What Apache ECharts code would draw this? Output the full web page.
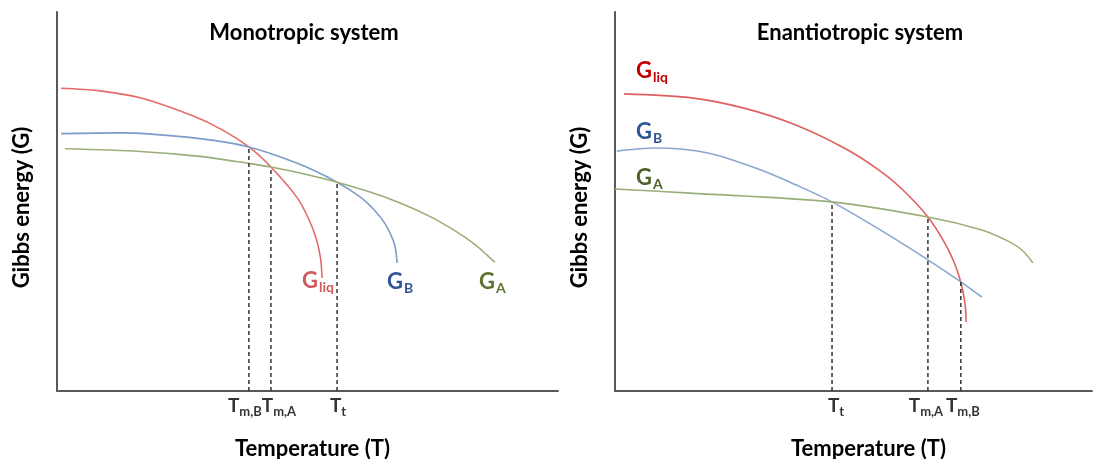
<!DOCTYPE html>
<html>
<head>
<meta charset="utf-8">
<script src="https://cdn.jsdelivr.net/npm/echarts@6/dist/echarts.min.js"></script>
<style>
  html, body { margin: 0; padding: 0; background: #fff; }
  #main { width: 1103px; height: 459px; }
</style>
</head>
<body>
<div id="main"></div>
<script>
// values, x = temperature, y = Gibbs energy (both 0..100)
// Monotropic system
var monoLiq = [[0.8, 79.9], [8.6, 79.2], [16.8, 77.3], [27.1, 72.6], [32.7, 69.1], [38.3, 64.4], [42.7, 59.1], [48.1, 50.7], [50.5, 44.6], [51.7, 40.4], [52.3, 37.2], [52.7, 34.0], [52.9, 29.8]];
var monoB = [[0.8, 67.9], [12.8, 68.1], [28.5, 66.6], [38.3, 64.4], [48.1, 60.0], [55.9, 55.1], [60.5, 51.2], [63.5, 47.5], [65.5, 44.1], [66.9, 40.4], [67.5, 38.0], [67.9, 33.8]];
var monoA = [[1.6, 63.9], [16.6, 63.2], [28.5, 61.9], [38.5, 60.0], [42.7, 59.1], [48.5, 57.5], [55.9, 55.1], [62.5, 52.5], [68.5, 49.6], [74.5, 46.0], [79.4, 42.3], [83.4, 38.7], [85.8, 35.9], [87.4, 34.0]];
var monoTicks = [38.3, 42.7, 55.9];
var monoTickTops = [64.4, 59.1, 55.1];
var monoTickNames = ['m,B', 'm,A', 't'];

// Enantiotropic system
var enanLiq = [[1.9, 78.4], [15.7, 77.4], [26.8, 74.7], [37.9, 70.2], [48.8, 63.6], [56.2, 57.5], [60.8, 52.5], [65.6, 45.9], [69.2, 38.9], [71.3, 33.3], [72.5, 28.7], [73.2, 24.6], [73.5, 21.5], [73.6, 18.2]];
var enanB = [[0.4, 63.3], [8.4, 64.1], [19.5, 62.8], [30.6, 58.3], [37.9, 54.4], [45.5, 49.9], [55.6, 42.5], [65.6, 34.6], [72.5, 28.8], [76.9, 24.8]];
var enanA = [[0, 53.3], [15.7, 52.2], [45.5, 49.9], [65.6, 45.9], [76.9, 42.5], [82.0, 39.8], [85.3, 37.2], [87.6, 33.8]];
var enanTicks = [45.5, 65.6, 72.5];
var enanTickTops = [49.9, 45.9, 28.8];
var enanTickNames = ['t', 'm,A', 'm,B'];

var FONT = 'Lato';
var axisCol = '#595959';

function curve(data, color, idx) {
  return {
    type: 'line', data: data, xAxisIndex: idx, yAxisIndex: idx,
    smooth: 0.3, symbol: 'none', silent: true,
    lineStyle: { color: color, width: 1.6 }
  };
}

function dashes(ticks, tops, idx) {
  return ticks.map(function (t, i) {
    return {
      type: 'line', data: [[t, 0], [t, tops[i]]], xAxisIndex: idx, yAxisIndex: idx,
      symbol: 'none', silent: true,
      lineStyle: { color: '#333', width: 1.5, type: [4, 3] }
    };
  });
}

// tick labels T_x under the axis; shifts nudge a label off its dashed line (px)
function tickLabels(ticks, names, shifts, idx) {
  return {
    type: 'scatter', xAxisIndex: idx, yAxisIndex: idx, symbolSize: 0, silent: true,
    data: ticks.map(function (t, i) {
      return { value: [t, 0], label: { position: [shifts[i], 5], formatter: '{t|T}{s|' + names[i] + '}' } };
    }),
    label: {
      show: true, align: 'center', verticalAlign: 'top',
      rich: {
        t: { fontFamily: FONT, fontWeight: 'bold', fontSize: 19, lineHeight: 20, color: '#000', verticalAlign: 'top' },
        s: { fontFamily: FONT, fontWeight: 'bold', fontSize: 13, lineHeight: 13, color: '#000', verticalAlign: 'top', padding: [9, 0, 0, 0] }
      }
    },
    labelLayout: { hideOverlap: false }
  };
}

function xAx(idx, namePad) {
  return {
    type: 'value', gridIndex: idx, min: 0, max: 100,
    name: 'Temperature (T)', nameLocation: 'middle', nameGap: 47,
    nameTextStyle: { fontFamily: FONT, fontWeight: 'bold', fontSize: 22, color: '#000', padding: namePad },
    axisLine: { show: true, lineStyle: { color: axisCol, width: 2 } },
    axisTick: { show: false },
    axisLabel: { show: false },
    splitLine: { show: false }
  };
}

function yAx(idx) {
  return {
    type: 'value', gridIndex: idx, min: 0, max: 100,
    name: 'Gibbs energy (G)', nameLocation: 'middle', nameGap: 24, nameRotate: 90,
    nameTextStyle: { fontFamily: FONT, fontWeight: 'bold', fontSize: 22, color: '#000', padding: [0, 12, 0, 0] },
    axisLine: { show: true, lineStyle: { color: axisCol, width: 2 } },
    axisTick: { show: false },
    axisLabel: { show: false },
    splitLine: { show: false }
  };
}

function gLabel(x, y, sub, gCol) {
  return {
    type: 'text', x: x, y: y, silent: true,
    style: {
      text: '{g|G}{s|' + sub + '}',
      rich: {
        g: { fontFamily: FONT, fontWeight: 'bold', fontSize: 22, lineHeight: 22, fill: gCol, verticalAlign: 'top' },
        s: { fontFamily: FONT, fontWeight: 'bold', fontSize: 14, lineHeight: 14, fill: gCol, verticalAlign: 'top', padding: [10, 0, 0, 1] }
      }
    }
  };
}

var chart = echarts.init(document.getElementById('main'));
chart.setOption({
  animation: false,
  title: [
    { text: 'Monotropic system', left: 299, top: 17, textAlign: 'center',
      textStyle: { fontFamily: FONT, fontWeight: 'bold', fontSize: 22, color: '#000' } },
    { text: 'Enantiotropic system', left: 855, top: 17, textAlign: 'center',
      textStyle: { fontFamily: FONT, fontWeight: 'bold', fontSize: 22, color: '#000' } }
  ],
  grid: [
    { left: 57, top: 12, width: 501, height: 379, containLabel: false, outerBoundsMode: 'none' },
    { left: 615, top: 12, width: 477, height: 379, containLabel: false, outerBoundsMode: 'none' }
  ],
  xAxis: [xAx(0, [0, 0, 0, 10]), xAx(1, [0, 0, 0, 30])],
  yAxis: [yAx(0), yAx(1)],
  series: [
    curve(monoLiq, '#E46A6A', 0),
    curve(monoB, '#7E9CC8', 0),
    curve(monoA, '#9AAE7A', 0),
    curve(enanLiq, '#E06060', 1),
    curve(enanB, '#8AA6CF', 1),
    curve(enanA, '#9AAE7A', 1)
  ].concat(
    dashes(monoTicks, monoTickTops, 0), dashes(enanTicks, enanTickTops, 1),
    [tickLabels(monoTicks, monoTickNames, [-4, 8, 1], 0), tickLabels(enanTicks, enanTickNames, [4, -2, 2], 1)]
  ),
  graphic: [
    gLabel(302, 270, 'liq', '#D05A5A'),
    gLabel(387, 271, 'B', '#2F5597'),
    gLabel(479, 271, 'A', '#5B7330'),
    gLabel(636, 60, 'liq', '#C00000'),
    gLabel(636, 121, 'B', '#2F5597'),
    gLabel(636, 167, 'A', '#4F6228')
  ]
});
</script>
</body>
</html>
